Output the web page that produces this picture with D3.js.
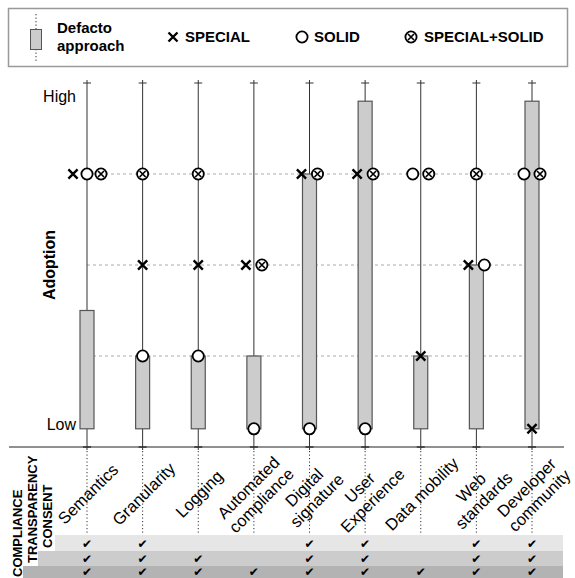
<!DOCTYPE html>
<html>
<head>
<meta charset="utf-8">
<script src="https://cdn.jsdelivr.net/npm/d3@7"></script>
<style>
  body { margin: 0; background: #fff; }
  svg { font-family: "Liberation Sans", Arial, sans-serif; }
</style>
</head>
<body>
<div id="wrapper"></div>
<script>
// categories along the x axis (\n = line break in the label)
const categories = ["Semantics", "Granularity", "Logging", "Automated\ncompliance", "Digital\nsignature",
                    "User\nExperience", "Data mobility", "Web\nstandards", "Developer\ncommunity"]

// adoption levels: 0.2 = Low, 3.8 = High
const boxTop = [1.5, 1, 1, 1, 3, 3.8, 1, 2, 3.8]
const special = [3, 2, 2, 2, 3, 3, 1, 2, 0.2]
const solid = [3, 1, 1, 0.2, 0.2, 0.2, 3, 2, 3]
const specialSolid = [3, 3, 3, 2, 3, 3, 3, 3, 3]
const gridLevels = [1, 2, 3]
const yTickLabels = [["Low", 0.2], ["High", 3.8]]

// requirement table under the chart
const rowNames = ["CONSENT", "TRANSPARENCY", "COMPLIANCE"]
const consent = [1, 1, 0, 0, 1, 1, 0, 1, 1]
const transparency = [1, 1, 1, 0, 1, 1, 0, 1, 1]
const compliance = [1, 1, 1, 1, 1, 1, 1, 1, 1]

const width = 575
const height = 578
const lowValue = 0.2

const svg = d3.select("#wrapper")
    .append("svg")
        .attr("width", width)
        .attr("height", height)

const x = d3.scalePoint().domain(categories).range([87, 532])
const y = d3.scaleLinear().domain([0, 4]).range([447, 83])

// marker drawing helpers
function drawX(g, cx, cy, s) {
    g.append("path")
        .attr("d", `M${cx - s},${cy - s}L${cx + s},${cy + s}M${cx - s},${cy + s}L${cx + s},${cy - s}`)
        .attr("stroke", "#000").attr("stroke-width", 2.4).attr("fill", "none")
}
function drawO(g, cx, cy) {
    g.append("circle").attr("cx", cx).attr("cy", cy).attr("r", 5.6)
        .attr("fill", "#fff").attr("stroke", "#000").attr("stroke-width", 1.8)
}
function drawBoth(g, cx, cy) {
    drawO(g, cx, cy)
    g.append("path")
        .attr("d", `M${cx - 3},${cy - 3}L${cx + 3},${cy + 3}M${cx - 3},${cy + 3}L${cx + 3},${cy - 3}`)
        .attr("stroke", "#000").attr("stroke-width", 1.7)
}

// ---- legend
const legend = svg.append("g")
legend.append("rect").attr("x", 8.5).attr("y", 8.5).attr("width", 559).attr("height", 58)
    .attr("fill", "#fff").attr("stroke", "#999").attr("stroke-width", 1.5)
legend.append("line").attr("x1", 36).attr("x2", 36).attr("y1", 14).attr("y2", 62)
    .attr("stroke", "#333").attr("stroke-dasharray", "1.3,2.2")
legend.append("rect").attr("x", 30.5).attr("y", 29.5).attr("width", 11).attr("height", 20)
    .attr("fill", "#ccc").attr("stroke", "#555")
legend.append("text").attr("x", 57).attr("y", 33).text("Defacto")
    .attr("font-weight", "bold").attr("font-size", 15)
legend.append("text").attr("x", 57).attr("y", 51).text("approach")
    .attr("font-weight", "bold").attr("font-size", 15)
drawX(legend, 173, 37, 4.5)
drawO(legend, 302, 37)
drawBoth(legend, 411, 37)
const legendItems = [["SPECIAL", 185], ["SOLID", 314], ["SPECIAL+SOLID", 424]]
legend.selectAll("text.item").data(legendItems).join("text")
    .attr("class", "item")
    .attr("x", d => d[1]).attr("y", 42)
    .attr("font-weight", "bold").attr("font-size", 15)
    .text(d => d[0])

// ---- chart
const chart = svg.append("g")

// dashed grid lines
chart.selectAll("line.grid").data(gridLevels).join("line")
    .attr("class", "grid")
    .attr("x1", x(categories[0])).attr("x2", x(categories[categories.length - 1]))
    .attr("y1", d => y(d)).attr("y2", d => y(d))
    .attr("stroke", "#aaa").attr("stroke-dasharray", "3,3")

// bottom axis line
chart.append("line").attr("x1", 9).attr("x2", 564).attr("y1", y(0)).attr("y2", y(0))
    .attr("stroke", "#222").attr("stroke-width", 1.2)

// whiskers + ticks
const cols = chart.selectAll("g.col").data(categories).join("g").attr("class", "col")
cols.append("line")
    .attr("x1", d => x(d)).attr("x2", d => x(d))
    .attr("y1", y(4) - 3).attr("y2", y(0) + 3)
    .attr("stroke", "#333")
cols.append("line")
    .attr("x1", d => x(d) - 4).attr("x2", d => x(d) + 4)
    .attr("y1", y(4)).attr("y2", y(4))
    .attr("stroke", "#333")
cols.append("line")
    .attr("x1", d => x(d) - 4).attr("x2", d => x(d) + 4)
    .attr("y1", y(0)).attr("y2", y(0))
    .attr("stroke", "#333").attr("stroke-width", 1.5)
// dotted guide down to the table
cols.append("line")
    .attr("x1", d => x(d)).attr("x2", d => x(d))
    .attr("y1", y(0) + 4).attr("y2", 535)
    .attr("stroke", "#333").attr("stroke-dasharray", "1.2,2.3")

// boxes
chart.selectAll("rect.box").data(categories).join("rect")
    .attr("class", "box")
    .attr("x", d => x(d) - 7)
    .attr("width", 14)
    .attr("y", (d, i) => y(boxTop[i]))
    .attr("height", (d, i) => y(lowValue) - y(boxTop[i]))
    .attr("fill", "#ccc").attr("stroke", "#555").attr("stroke-width", 1.2)

// markers, side by side when they share a level
const marks = []
categories.forEach((c, i) => {
    const group = [["special", special[i]], ["solid", solid[i]], ["both", specialSolid[i]]]
    const levels = d3.group(group, d => d[1])
    levels.forEach((items, level) => {
        const n = items.length
        const step = n === 3 ? 14 : 16
        items.forEach((it, k) => {
            marks.push({ type: it[0], cx: x(c) + (k - (n - 1) / 2) * step, cy: y(level) })
        })
    })
})
const markLayer = chart.append("g")
marks.forEach(m => {
    if (m.type === "special") drawX(markLayer, m.cx, m.cy, 4.6)
    else if (m.type === "solid") drawO(markLayer, m.cx, m.cy)
    else drawBoth(markLayer, m.cx, m.cy)
})

// y tick labels
chart.selectAll("text.ytick").data(yTickLabels).join("text")
    .attr("class", "ytick")
    .attr("x", 76).attr("y", d => y(d[1]) + 1)
    .attr("text-anchor", "end").attr("font-size", 16)
    .text(d => d[0])

// y axis title
chart.append("text")
    .attr("transform", `translate(55,${y(2)}) rotate(-90)`)
    .attr("text-anchor", "middle").attr("font-weight", "bold").attr("font-size", 16)
    .text("Adoption")

// category labels, rotated
const catLabels = chart.selectAll("text.cat").data(categories).join("text")
    .attr("class", "cat")
    .attr("transform", d => `translate(${x(d) + 1},494) rotate(-45)`)
    .attr("text-anchor", "middle").attr("font-size", 16.5)
catLabels.each(function(d) {
    const lines = d.split("\n")
    const t = d3.select(this)
    lines.forEach((ln, k) => {
        t.append("tspan").attr("x", 0)
            .attr("dy", k === 0 ? `${0.35 - (lines.length - 1) * 0.55}em` : "1.1em")
            .text(ln)
    })
})

// ---- requirement table
const rows = [consent, transparency, compliance]
const rowTop = [535, 551, 566]
const rowBottom = [551, 566, 580]
const rowColors = ["#e6e6e6", "#cccccc", "#b3b3b3"]
const rowStart = [55, 38, 23]
const labelX = [52, 37, 22]
const checkBaseline = [547.5, 562.5, 575.5]

const table = svg.append("g")
rows.forEach((vals, r) => {
    table.append("rect")
        .attr("x", rowStart[r]).attr("y", rowTop[r])
        .attr("width", 563 - rowStart[r]).attr("height", rowBottom[r] - rowTop[r])
        .attr("fill", rowColors[r])
    table.append("text")
        .attr("transform", `translate(${labelX[r]},${rowBottom[r] - 3}) rotate(-90)`)
        .attr("font-weight", "bold").attr("font-size", 13)
        .text(rowNames[r])
    table.selectAll(null).data(categories.filter((c, i) => vals[i])).join("text")
        .attr("x", d => x(d)).attr("y", checkBaseline[r])
        .attr("text-anchor", "middle")
        .attr("font-family", "DejaVu Sans").attr("font-weight", "bold").attr("font-size", 12)
        .text("\u2714")
})
</script>
</body>
</html>
